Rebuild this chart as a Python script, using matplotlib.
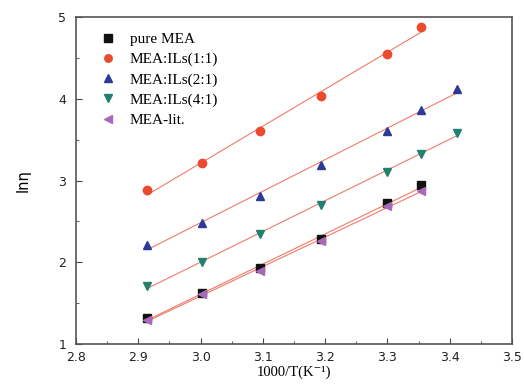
#!/usr/bin/env python3

"""Arrhenius-type plot of ln(viscosity) vs 1000/T for MEA mixtures."""

import numpy as np
import matplotlib
matplotlib.use('Agg')
import matplotlib.pyplot as plt
from matplotlib.ticker import MultipleLocator

# 1000/T for 343.15 ... 293.15 K
inv_t = [2.914, 3.002, 3.095, 3.193, 3.299, 3.354, 3.411]

pure_mea = [1.32, 1.62, 1.93, 2.29, 2.72, 2.94]
mea_ils_11 = [2.88, 3.21, 3.60, 4.03, 4.55, 4.88]
mea_ils_21 = [2.21, 2.48, 2.81, 3.19, 3.61, 3.86, 4.12]
mea_ils_41 = [1.71, 2.00, 2.35, 2.70, 3.11, 3.33, 3.58]
mea_lit = [1.29, 1.61, 1.90, 2.26, 2.69, 2.87]

series = [
    ('pure MEA', pure_mea, 's', '#111111'),
    ('MEA:ILs(1:1)', mea_ils_11, 'o', '#ec4a2c'),
    ('MEA:ILs(2:1)', mea_ils_21, '^', '#2f3a96'),
    ('MEA:ILs(4:1)', mea_ils_41, 'v', '#23806f'),
    ('MEA-lit.', mea_lit, '<', '#a86ab8'),
]

fig = plt.figure(figsize=(5.24, 3.85), dpi=100)
ax = fig.add_axes([0.145, 0.106, 0.832, 0.850])

for label, y, marker, color in series:
    x = np.array(inv_t[:len(y)])
    y = np.array(y)
    # linear fit drawn over the data range
    k, b = np.polyfit(x, y, 1)
    ax.plot(x[[0, -1]], k * x[[0, -1]] + b, color='#f07a68', lw=0.8, zorder=1)

for label, y, marker, color in series:
    ax.plot(inv_t[:len(y)], y, linestyle='none', marker=marker, ms=6,
            color=color, label=label, zorder=3)

ax.set_xlim(2.8, 3.5)
ax.set_ylim(1, 5)
ax.xaxis.set_major_locator(MultipleLocator(0.1))
ax.xaxis.set_minor_locator(MultipleLocator(0.05))
ax.yaxis.set_major_locator(MultipleLocator(1))
ax.yaxis.set_minor_locator(MultipleLocator(0.5))
ax.tick_params(which='both', direction='in', colors='#444444',
               labelcolor='#222222', labelsize=9)
ax.tick_params(which='major', length=4)
ax.tick_params(which='minor', length=2.5)
ax.tick_params(axis='x', pad=5)
ax.tick_params(axis='y', pad=7)
for s in ax.spines.values():
    s.set_color('#555555')
    s.set_linewidth(1.2)

ax.set_xlabel('1000/T(K\u207b\u00b9)', family=['Liberation Serif', 'DejaVu Serif'],
              fontsize=10.5, labelpad=1)
ax.set_ylabel('ln\u03b7', fontsize=10.5, labelpad=20)

ax.legend(loc='upper left', bbox_to_anchor=(0.025, 0.995), frameon=False,
          prop={'family': 'Liberation Serif', 'size': 11},
          handletextpad=0.9, labelspacing=0.42, markerscale=0.9,
          handlelength=1.0)

fig.savefig('out.png')
